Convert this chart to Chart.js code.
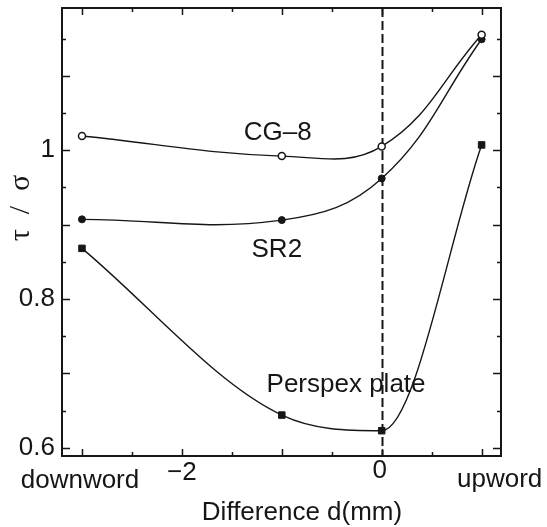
<!DOCTYPE html>
<html>
<head>
<meta charset="utf-8">
<script src="https://cdn.jsdelivr.net/npm/chart.js@4.4.0/dist/chart.umd.min.js"></script>
<style>
  html, body { margin: 0; padding: 0; background: #ffffff; }
  #wrap { width: 547px; height: 527px; }
</style>
</head>
<body>
<div id="wrap"><canvas id="c" width="547" height="527"></canvas></div>
<script>
// ---- data ----
const xValues = [-3, -1, 0, 1];              // difference d (mm); -3 = downword, 1 = upword
const cg8 = [1.019, 0.992, 1.005, 1.155];
const sr2 = [0.907, 0.906, 0.962, 1.149];
const perspex = [0.868, 0.644, 0.623, 1.007];

const xLabelValues = [-3, -2, 0, 1];
const xLabelTexts = ['downword', '\u22122', '0', 'upword'];
const yLabelValues = [0.6, 0.8, 1];
const yLabelTexts = ['0.6', '0.8', '1'];

const seriesNames = ['CG\u20138', 'SR2', 'Perspex plate'];
const seriesLabelX = [-1.04, -1.05, -0.357];
const seriesLabelY = [1.0134, 0.856, 0.675];

const xTitle = 'Difference d(mm)';
const yTitle = '\u03C4  /  \u03C3';

// ---- styles ----
const INK = '#161616';
const FONT = '26px "Liberation Sans", Arial, Helvetica, sans-serif';
const xLabelDx = [-2, 0, -2, 18];
const xLabelBaseline = [488, 480, 478, 487];

function pts(ys) { return xValues.map((x, i) => ({ x: x, y: ys[i] })); }

const frameTicks = {
  id: 'frameTicks',
  beforeDatasetsDraw(chart) {
    const { ctx, chartArea: a, scales: { x, y } } = chart;
    ctx.save();
    ctx.strokeStyle = INK;
    // ticks
    ctx.lineWidth = 1.5;
    for (let k = 0; k <= 11; k++) {
      const v = 0.6 + k * 0.05;
      const major = k % 2 === 0;
      const py = Math.round(y.getPixelForValue(v)) + 0.5;
      const L = major ? 8 : 4;
      ctx.beginPath();
      ctx.moveTo(a.left, py); ctx.lineTo(a.left + L, py);
      ctx.moveTo(a.right, py); ctx.lineTo(a.right - L, py);
      ctx.stroke();
    }
    for (let k = 0; k <= 8; k++) {
      const v = -3 + k * 0.5;
      const major = k % 2 === 0;
      const px = Math.round(x.getPixelForValue(v)) + 0.5;
      const L = major ? 7 : 4;
      ctx.beginPath();
      ctx.moveTo(px, a.top); ctx.lineTo(px, a.top + L);
      ctx.moveTo(px, a.bottom); ctx.lineTo(px, a.bottom - L);
      ctx.stroke();
    }
    // dashed zero line
    const x0 = Math.round(x.getPixelForValue(0)) + 0.5;
    ctx.lineWidth = 2;
    ctx.setLineDash([9, 4]);
    ctx.beginPath();
    ctx.moveTo(x0, a.top); ctx.lineTo(x0, a.bottom);
    ctx.stroke();
    ctx.setLineDash([]);
    // frame
    ctx.lineWidth = 2;
    ctx.strokeRect(a.left, a.top, a.right - a.left, a.bottom - a.top);
    ctx.restore();
  },
  afterDraw(chart) {
    const { ctx, scales: { x, y } } = chart;
    ctx.save();
    ctx.fillStyle = INK;
    ctx.font = FONT;
    // y tick labels
    ctx.textAlign = 'right';
    ctx.textBaseline = 'middle';
    yLabelValues.forEach((v, i) => {
      ctx.fillText(yLabelTexts[i], 55, y.getPixelForValue(v));
    });
    // x tick labels
    ctx.textAlign = 'center';
    ctx.textBaseline = 'alphabetic';
    xLabelValues.forEach((v, i) => {
      ctx.fillText(xLabelTexts[i], x.getPixelForValue(v) + xLabelDx[i], xLabelBaseline[i]);
    });
    // series labels
    seriesNames.forEach((t, i) => {
      ctx.fillText(t, x.getPixelForValue(seriesLabelX[i]), y.getPixelForValue(seriesLabelY[i]));
    });
    // x title
    ctx.fillText(xTitle, 302, 520);
    // y title
    ctx.translate(21, 208);
    ctx.rotate(-Math.PI / 2);
    ctx.font = '30px "Liberation Serif", "DejaVu Serif", serif';
    ctx.textBaseline = 'middle';
    ctx.fillText(yTitle, 0, 0);
    ctx.restore();
  }
};

new Chart(document.getElementById('c'), {
  type: 'line',
  data: {
    datasets: [
      {
        label: seriesNames[0], data: pts(cg8),
        borderColor: INK, borderWidth: 1.4, tension: 0.4, fill: false,
        pointStyle: 'circle', pointRadius: 3.5, pointBackgroundColor: '#ffffff',
        pointBorderColor: INK, pointBorderWidth: 1.5
      },
      {
        label: seriesNames[1], data: pts(sr2),
        borderColor: INK, borderWidth: 1.4, tension: 0.4, fill: false,
        pointStyle: 'circle', pointRadius: 3.5, pointBackgroundColor: INK,
        pointBorderColor: INK, pointBorderWidth: 1
      },
      {
        label: seriesNames[2], data: pts(perspex),
        borderColor: INK, borderWidth: 1.4, tension: 0.4, cubicInterpolationMode: 'monotone', fill: false,
        pointStyle: 'rect', pointRadius: 4.6, pointBackgroundColor: INK,
        pointBorderColor: INK, pointBorderWidth: 1
      }
    ]
  },
  options: {
    responsive: false,
    animation: false,
    devicePixelRatio: 1,
    clip: false,
    layout: { padding: { left: 62, top: 8, right: 46, bottom: 71 } },
    scales: {
      x: { type: 'linear', min: -3.2, max: 1.194, display: false },
      y: { type: 'linear', min: 0.589, max: 1.191, display: false }
    },
    plugins: { legend: { display: false }, tooltip: { enabled: false } }
  },
  plugins: [frameTicks]
});
</script>
</body>
</html>
